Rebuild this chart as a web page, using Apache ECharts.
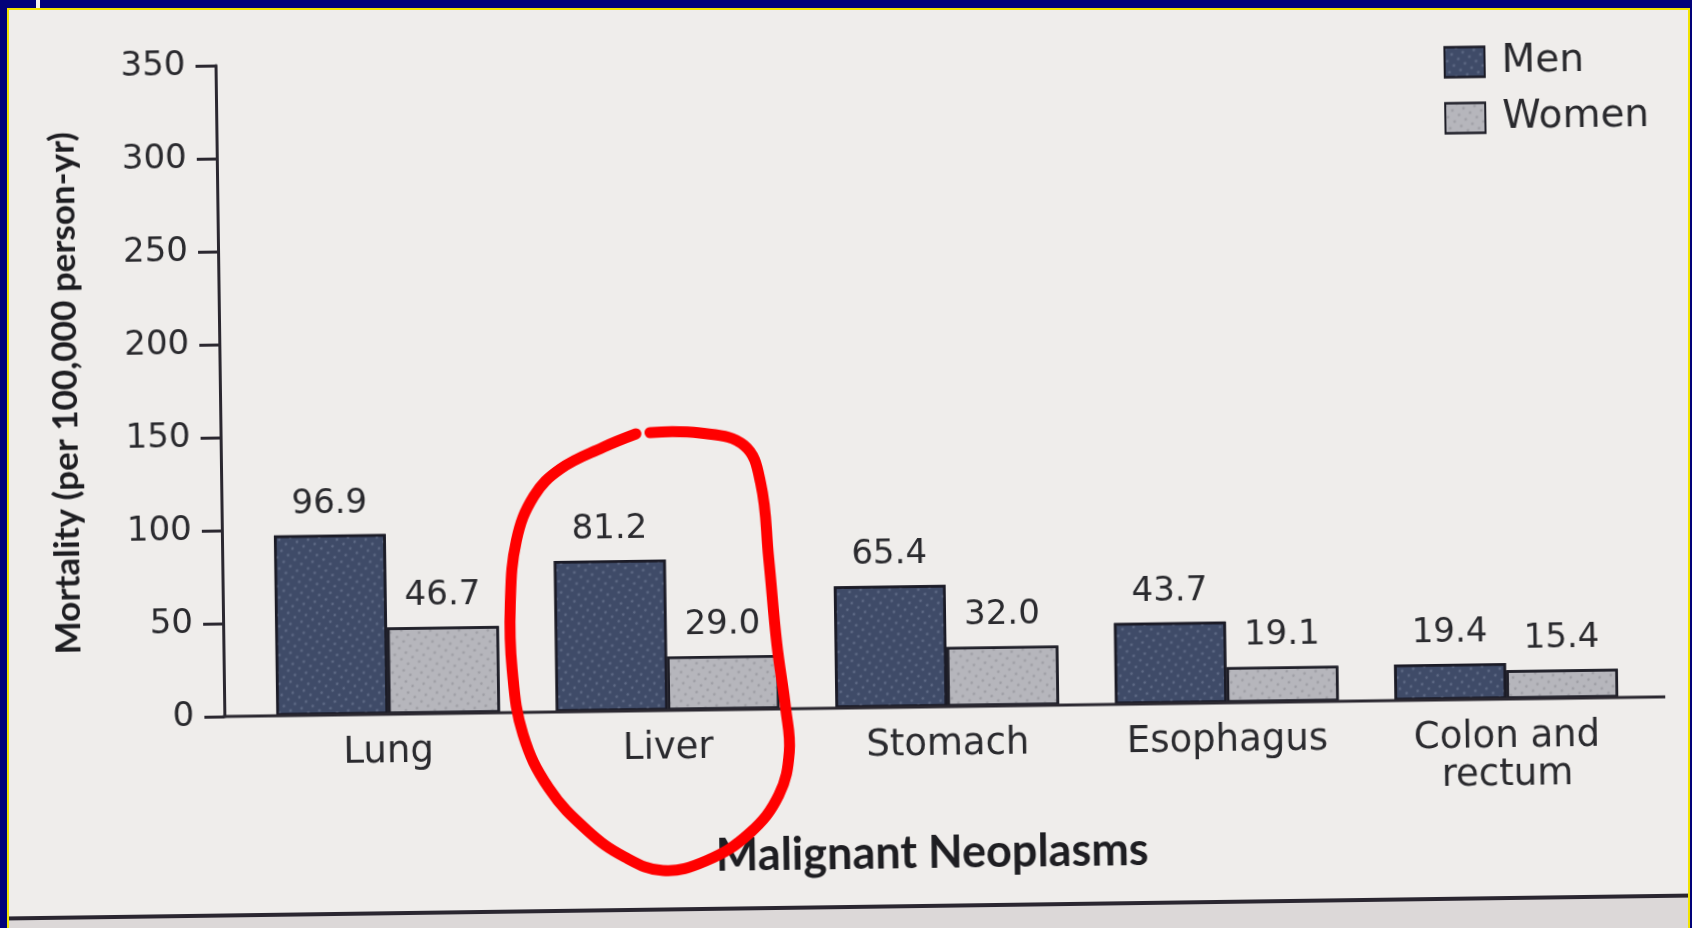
<!DOCTYPE html>
<html>
<head>
<meta charset="utf-8">
<script src="https://cdn.jsdelivr.net/npm/echarts@6/dist/echarts.min.js"></script>
<style>
html,body{margin:0;padding:0;width:1692px;height:928px;overflow:hidden;background:#efedeb;}
#band{position:absolute;left:-60px;top:907px;width:1820px;height:120px;background:#dcd8d8;transform:rotate(-0.78deg);transform-origin:906px -443px;}
#chart{position:absolute;left:0;top:0;width:1692px;height:928px;transform:rotate(-0.78deg);transform-origin:846px 464px;}
.f{position:absolute;}
</style>
</head>
<body>
<div id="band"></div>
<div id="chart"></div>
<div class="f" style="left:0;top:0;width:1692px;height:8px;background:#020279"></div>
<div class="f" style="left:36px;top:0;width:4px;height:8px;background:#f4f2ee"></div>
<div class="f" style="left:0;top:0;width:7px;height:928px;background:#020279"></div>
<div class="f" style="left:7px;top:8px;width:2px;height:920px;background:#f2e400"></div>
<div class="f" style="left:7px;top:8px;width:1683px;height:2px;background:#f2e400"></div>
<div class="f" style="left:1688px;top:8px;width:2px;height:920px;background:#f2e400"></div>
<div class="f" style="left:1690px;top:0;width:2px;height:928px;background:#020279"></div>
<script>
// ---- data ----
const categories = ['Lung', 'Liver', 'Stomach', 'Esophagus', 'Colon and\nrectum'];
const menValues = [96.9, 81.2, 65.4, 43.7, 19.4];
const womenValues = [46.7, 29.0, 32.0, 19.1, 15.4];
const seriesNames = ['Men', 'Women'];
const yMin = 0, yMax = 350, yStep = 50;

const FONT = 'DejaVu Sans';
const TITLE_FONT = 'Lato';
const TXT = '#2a2a2e';
const AX = '#2b2830';

const chart = echarts.init(document.getElementById('chart'), null, {renderer: 'canvas'});

const labelCfg = {
  show: true,
  position: 'top',
  distance: 14,
  fontFamily: FONT,
  fontSize: 34,
  color: TXT,
  formatter: p => p.value.toFixed(1)
};

chart.setOption({
  backgroundColor: 'transparent',
  animation: false,
  textStyle: {fontFamily: FONT, color: TXT},
  grid: {left: 245, right: 49, top: 57, bottom: 220, containLabel: false},
  legend: {
    data: seriesNames,
    orient: 'vertical',
    left: 1449,
    top: 51,
    padding: 0,
    itemWidth: 40,
    itemHeight: 30,
    itemGap: 17,
    icon: 'rect',
    textStyle: {fontFamily: FONT, fontSize: 39, color: TXT, padding: [0, 0, 0, 12]}
  },
  xAxis: {
    type: 'category',
    data: categories,
    axisLine: {show: false},
    axisTick: {show: false},
    axisLabel: {fontFamily: FONT, fontSize: 37, color: TXT, margin: 19, lineHeight: 38},
    name: 'Malignant Neoplasms',
    nameLocation: 'middle',
    nameGap: 124,
    nameTextStyle: {fontFamily: TITLE_FONT, fontSize: 45, fontWeight: 'bold', color: '#1e1e22', padding: [0, 34, 0, 0]}
  },
  yAxis: {
    type: 'value',
    min: yMin,
    max: yMax,
    interval: yStep,
    offset: 24,
    axisLine: {show: true, lineStyle: {color: AX, width: 3}},
    axisTick: {show: true, length: 20, lineStyle: {color: AX, width: 3}},
    splitLine: {show: false},
    axisLabel: {fontFamily: FONT, fontSize: 34, color: TXT, margin: 30},
    name: 'Mortality (per 100,000 person-yr)',
    nameLocation: 'middle',
    nameGap: 137,
    nameTextStyle: {fontFamily: TITLE_FONT, fontSize: 35, fontWeight: 'bold', color: '#1e1e22'}
  },
  series: [
    {
      name: seriesNames[0],
      type: 'bar',
      data: menValues,
      barGap: '0%',
      barCategoryGap: '20%',
      itemStyle: {
        color: '#3f4b68',
        borderColor: '#1b1b26',
        borderWidth: 2.5,
        decal: {symbol: 'circle', symbolSize: 0.7, dashArrayX: 4, dashArrayY: 4, rotation: 0.6, color: 'rgba(200,210,230,0.22)'}
      },
      label: labelCfg
    },
    {
      name: seriesNames[1],
      type: 'bar',
      data: womenValues,
      barGap: '0%',
      barCategoryGap: '20%',
      itemStyle: {
        color: '#b6b6bc',
        borderColor: '#1f1f28',
        borderWidth: 2.5,
        decal: {symbol: 'circle', symbolSize: 0.7, dashArrayX: 4, dashArrayY: 4, rotation: 0.6, color: 'rgba(90,90,100,0.25)'}
      },
      label: labelCfg
    }
  ]
});

// axis baseline and decorations, positioned from the chart's own scales
const c0 = chart.convertToPixel({xAxisIndex: 0}, 0);
const c1 = chart.convertToPixel({xAxisIndex: 0}, 1);
const cLast = chart.convertToPixel({xAxisIndex: 0}, categories.length - 1);
const band = c1 - c0;
const gridLeft = c0 - band / 2;
const axisX = gridLeft - 24;
const y0 = chart.convertToPixel({yAxisIndex: 0}, 0);
const liverX = chart.convertToPixel({xAxisIndex: 0}, categories.indexOf('Liver'));

// hand-drawn red annotation around the Liver group (offsets relative to its centre / baseline)
const ring = [[-14,-278],[36,-277],[80,-264],[96,-226],[103,-151],[110,-65],[118,0],[121,43],[110,86],[80,124],[36,151],[-7,160],[-45,146],[-82,119],[-120,76],[-145,22],[-155,-43],[-156,-108],[-149,-172],[-131,-216],[-104,-243],[-61,-264],[-28,-277]]
  .map(p => [liverX + p[0], y0 + p[1]]);

chart.setOption({
  graphic: [
    {type: 'line', z: 50, shape: {x1: axisX - 1.5, y1: y0, x2: cLast + band / 2 + 19, y2: y0}, style: {stroke: AX, lineWidth: 3}},
    {type: 'line', z: 2, shape: {x1: -60, y1: 907, x2: 1760, y2: 907}, style: {stroke: '#2a2630', lineWidth: 4}},
    {type: 'polyline', z: 100, shape: {points: ring, smooth: 0.4}, style: {stroke: '#ff0000', lineWidth: 11, fill: null, lineCap: 'round', lineJoin: 'round'}}
  ]
});
</script>
</body>
</html>
